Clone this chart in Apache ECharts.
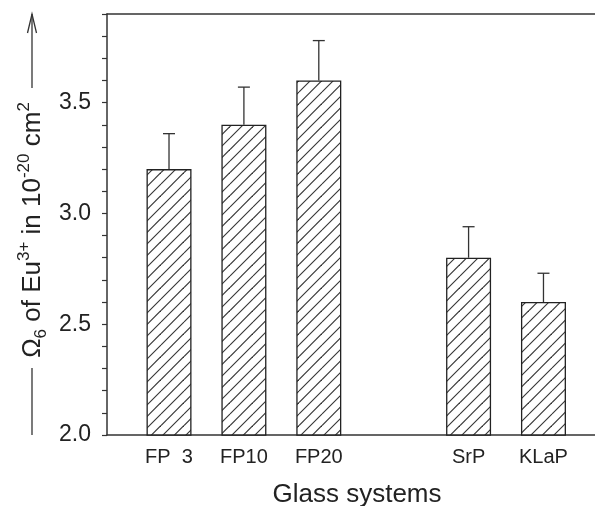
<!DOCTYPE html>
<html>
<head>
<meta charset="utf-8">
<script src="https://cdn.jsdelivr.net/npm/echarts@6/dist/echarts.min.js"></script>
<style>
  html, body { margin: 0; padding: 0; background: #ffffff; }
  #chart { width: 595px; height: 506px; }
</style>
</head>
<body>
<div id="chart"></div>
<script>
// Glass systems and their Omega_6 intensity parameter for Eu3+ (units of 1e-20 cm^2)
const categories = ['FP  3', 'FP10', 'FP20', 'SrP', 'KLaP'];
// slot on the category scale (slot 3 is left empty between the two groups)
const slots = [0, 1, 2, 4, 5];
const omega6 = [3.20, 3.40, 3.60, 2.80, 2.60];
const omega6Err = [0.16, 0.17, 0.18, 0.14, 0.13];
const yLabelValues = [2.0, 2.5, 3.0, 3.5];

const FONT = 'Liberation Sans, Arial, sans-serif';
const INK = '#222';

// diagonal "/" hatch tile for the bars
function hatchTile() {
  const size = 23, step = 11.5;
  const c = document.createElement('canvas');
  c.width = size; c.height = size;
  const g = c.getContext('2d');
  g.fillStyle = '#ffffff';
  g.fillRect(0, 0, size, size);
  g.strokeStyle = '#333';
  g.lineWidth = 1.1;
  for (let k = -1; k <= 4; k++) {
    const c0 = k * step;
    g.beginPath();
    g.moveTo(0, c0);
    g.lineTo(size, c0 - size);
    g.stroke();
  }
  return c;
}

const chart = echarts.init(document.getElementById('chart'), null, { renderer: 'canvas' });

const xMin = -0.828, xMax = 5.688;
const axisLineStyle = { color: '#333', width: 1.5 };

const option = {
  backgroundColor: '#ffffff',
  animation: false,
  grid: { left: 107, right: 0, top: 14, bottom: 71 },
  xAxis: [
    {
      type: 'value', min: xMin, max: xMax, position: 'bottom',
      axisLine: { show: true, onZero: false, lineStyle: axisLineStyle },
      axisTick: { show: false },
      splitLine: { show: false },
      axisLabel: {
        customValues: slots,
        formatter: v => categories[slots.indexOf(v)] || '',
        fontFamily: FONT, fontSize: 20, color: INK, margin: 12
      }
    },
    {
      type: 'value', min: xMin, max: xMax, position: 'top',
      axisLine: { show: true, onZero: false, lineStyle: axisLineStyle },
      axisTick: { show: false },
      axisLabel: { show: false },
      splitLine: { show: false }
    }
  ],
  yAxis: {
    type: 'value', min: 2.0, max: 3.9, interval: 0.1,
    axisLine: { show: true, onZero: false, lineStyle: axisLineStyle },
    axisTick: { show: true, length: 5, lineStyle: { color: '#333', width: 1.2 } },
    splitLine: { show: false },
    axisLabel: {
      fontFamily: FONT, fontSize: 23, color: INK, margin: 16,
      formatter: v => yLabelValues.some(t => Math.abs(t - v) < 1e-6) ? v.toFixed(1) : ''
    }
  },
  series: [
    {
      type: 'bar',
      data: slots.map((s, i) => [s, omega6[i]]),
      barWidth: 45,
      itemStyle: {
        color: { image: hatchTile(), repeat: 'repeat' },
        borderColor: '#222',
        borderWidth: 1.3
      },
      z: 2
    },
    {
      type: 'custom',
      data: slots.map((s, i) => [s, omega6[i], omega6Err[i]]),
      z: 3,
      renderItem: function (params, api) {
        const x = api.value(0), y = api.value(1), e = api.value(2);
        const p0 = api.coord([x, y]);
        const p1 = api.coord([x, y + e]);
        const hw = 6;
        const st = { stroke: '#333', lineWidth: 1.3 };
        return {
          type: 'group',
          children: [
            { type: 'line', shape: { x1: p0[0], y1: p0[1], x2: p1[0], y2: p1[1] }, style: st },
            { type: 'line', shape: { x1: p1[0] - hw, y1: p1[1], x2: p1[0] + hw, y2: p1[1] }, style: st }
          ]
        };
      }
    }
  ],
  graphic: [
    // x axis title
    {
      type: 'text', x: 357, y: 495,
      style: {
        text: 'Glass systems', fontFamily: FONT, fontSize: 26, fill: INK,
        align: 'center', verticalAlign: 'middle'
      }
    },
    // y axis title with leading rule and trailing arrow
    {
      type: 'line', shape: { x1: 32, y1: 435, x2: 32, y2: 368 },
      style: { stroke: '#333', lineWidth: 1.3 }
    },
    {
      type: 'line', shape: { x1: 32, y1: 88, x2: 32, y2: 14 },
      style: { stroke: '#333', lineWidth: 1.3 }
    },
    {
      type: 'polyline', shape: { points: [[27.5, 33], [32, 14], [36.5, 33]] },
      style: { stroke: '#333', lineWidth: 1.3, fill: null }
    },
    {
      type: 'text', x: 33, y: 230, rotation: Math.PI / 2,
      style: {
        text: 'Ω{sub|6} of Eu{sup|3+} in 10{sup|-20} cm{sup|2}',
        fontFamily: FONT, fontSize: 26, fill: INK,
        align: 'center', verticalAlign: 'middle',
        rich: {
          sub: { fontFamily: FONT, fontSize: 17, fill: INK, verticalAlign: 'bottom', lineHeight: 34 },
          sup: { fontFamily: FONT, fontSize: 17, fill: INK, verticalAlign: 'top', lineHeight: 34 }
        }
      }
    }
  ]
};

chart.setOption(option);
</script>
</body>
</html>
